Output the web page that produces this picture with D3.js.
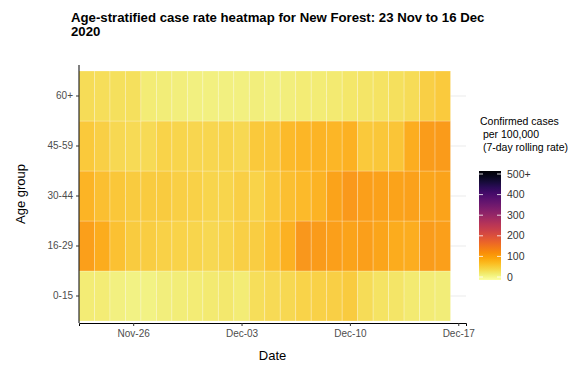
<!DOCTYPE html>
<html><head><meta charset="utf-8">
<script src="https://cdn.jsdelivr.net/npm/d3@7"></script>
<style>
body{margin:0;background:#fff;}
text{font-family:"Liberation Sans",Arial,sans-serif;}
</style></head>
<body><svg id="c" width="585" height="365"></svg>
<script>
const dates = ["2020-11-23","2020-11-24","2020-11-25","2020-11-26","2020-11-27","2020-11-28","2020-11-29","2020-11-30",
  "2020-12-01","2020-12-02","2020-12-03","2020-12-04","2020-12-05","2020-12-06","2020-12-07","2020-12-08",
  "2020-12-09","2020-12-10","2020-12-11","2020-12-12","2020-12-13","2020-12-14","2020-12-15","2020-12-16"];
const ageGroups = ["0-15","16-29","30-44","45-59","60+"];
const rate0_15  = [30,30,25,22,22,26,28,30,33,35,30,45,50,52,58,60,62,65,48,40,38,33,30,28];
const rate16_29 = [115,100,78,66,64,60,58,55,52,55,62,64,75,95,125,120,115,110,115,108,100,98,118,115];
const rate30_44 = [90,80,72,65,65,66,62,60,56,56,62,58,70,80,85,92,110,122,115,112,110,112,108,110];
const rate45_59 = [70,62,52,50,50,57,55,53,53,55,52,70,72,85,88,90,88,95,70,72,74,98,118,120];
const rate60p   = [48,46,44,44,30,28,27,25,24,24,25,27,24,27,30,30,32,36,38,40,44,48,62,68];
const xTickDates = ["2020-11-26","2020-12-03","2020-12-10","2020-12-17"];
const legendBreaks = [0,100,200,300,400,500];
const legendLabels = ["0","100","200","300","400","500+"];

const series = [rate0_15, rate16_29, rate30_44, rate45_59, rate60p];
const parse = d3.utcParse("%Y-%m-%d");
const cells = [];
ageGroups.forEach((g,i)=>series[i].forEach((v,j)=>cells.push({group:g,date:parse(dates[j]),value:v})));

const svg = d3.select("#c");
const panel = {left:79, right:466, top:65, bottom:323};
const HALF = 12*3600*1000;
const x = d3.scaleUtc()
  .domain([new Date(parse(dates[0]).getTime()-HALF), new Date(parse("2020-12-17").getTime()+HALF)])
  .range([panel.left, panel.right]);
const y = d3.scaleBand().domain(ageGroups).range([321, 71]).padding(0);
const color = v => d3.interpolateInferno(1 - Math.min(v,500)/500);

// gridlines
svg.append("g").selectAll("line").data(ageGroups).join("line")
  .attr("x1", panel.left).attr("x2", panel.right)
  .attr("y1", d=>y(d)+y.bandwidth()/2).attr("y2", d=>y(d)+y.bandwidth()/2)
  .attr("stroke","#ebebeb").attr("stroke-width",1);

// tiles
svg.append("g").selectAll("rect").data(cells).join("rect")
  .attr("x", d=>x(new Date(d.date.getTime()-HALF)))
  .attr("width", d=>x(new Date(d.date.getTime()+HALF))-x(new Date(d.date.getTime()-HALF)))
  .attr("y", d=>y(d.group)).attr("height", y.bandwidth())
  .attr("fill", d=>color(d.value)).attr("fill-opacity",0.92)
  .attr("stroke","#ffffff").attr("stroke-opacity",0.3).attr("stroke-width",0.8);

// axes
const xAxis = d3.axisBottom(x).tickValues(xTickDates.map(parse)).tickFormat(d3.utcFormat("%b-%d")).tickSize(3).tickPadding(4);
const gx = svg.append("g").attr("transform",`translate(0,${panel.bottom})`).call(xAxis);
gx.select(".domain").attr("stroke","#000").attr("stroke-width",1);
gx.selectAll(".tick line").attr("stroke","#333");
gx.selectAll(".tick text").attr("fill","#4d4d4d").attr("font-size","10px");

const yAxis = d3.axisLeft(y).tickSize(3).tickPadding(3);
const gy = svg.append("g").attr("transform",`translate(${panel.left},0)`).call(yAxis);
gy.select(".domain").attr("d",`M0,${panel.top}V${panel.bottom}`).attr("stroke","#000").attr("stroke-width",1);
gy.selectAll(".tick line").attr("stroke","#333");
gy.selectAll(".tick text").attr("fill","#4d4d4d").attr("font-size","10px");

// titles
const t = svg.append("text").attr("x",71).attr("font-weight","bold").attr("font-size","13.2px").attr("fill","#000");
t.append("tspan").attr("x",71).attr("y",22).text("Age-stratified case rate heatmap for New Forest: 23 Nov to 16 Dec");
t.append("tspan").attr("x",71).attr("y",36).text("2020");

svg.append("text").attr("x",(panel.left+panel.right)/2).attr("y",360).attr("text-anchor","middle")
  .attr("font-size","13px").attr("fill","#000").text("Date");
svg.append("text").attr("transform",`translate(25,${(panel.top+panel.bottom)/2}) rotate(-90)`).attr("text-anchor","middle")
  .attr("font-size","13px").attr("fill","#000").text("Age group");

// legend
const lg = svg.append("g");
const lt = lg.append("text").attr("font-size","10.5px").attr("fill","#000");
["Confirmed cases"," per 100,000"," (7-day rolling rate)"].forEach((s,i)=>
  lt.append("tspan").attr("x",480).attr("y",125+i*13).attr("xml:space","preserve").style("white-space","pre").text(s));
const ly = d3.scaleLinear().domain([0,500]).range([277,174]);
const defs = svg.append("defs");
const grad = defs.append("linearGradient").attr("id","lgrad").attr("x1",0).attr("y1",1).attr("x2",0).attr("y2",0);
d3.range(0,1.0001,0.05).forEach(s=>grad.append("stop").attr("offset",s).attr("stop-color",color(s*500)));
const barTop = 171, barBot = 280, bx = 479, bw = 22;
lg.append("rect").attr("x",bx).attr("y",barTop).attr("width",bw).attr("height",barBot-barTop).attr("fill","url(#lgrad)");
lg.selectAll(".tk").data(legendBreaks).join(g=>{
  const gg = g.append("g");
  gg.append("line").attr("x1",bx).attr("x2",bx+4).attr("y1",d=>ly(d)).attr("y2",d=>ly(d)).attr("stroke","#fff").attr("stroke-opacity",0.8);
  gg.append("line").attr("x1",bx+bw-4).attr("x2",bx+bw).attr("y1",d=>ly(d)).attr("y2",d=>ly(d)).attr("stroke","#fff").attr("stroke-opacity",0.8);
  gg.append("text").attr("x",bx+bw+6).attr("y",d=>ly(d)).attr("dy","0.35em").attr("font-size","10.5px").attr("fill","#333")
    .text((d,i)=>legendLabels[i]);
  return gg;
});
</script></body></html>
